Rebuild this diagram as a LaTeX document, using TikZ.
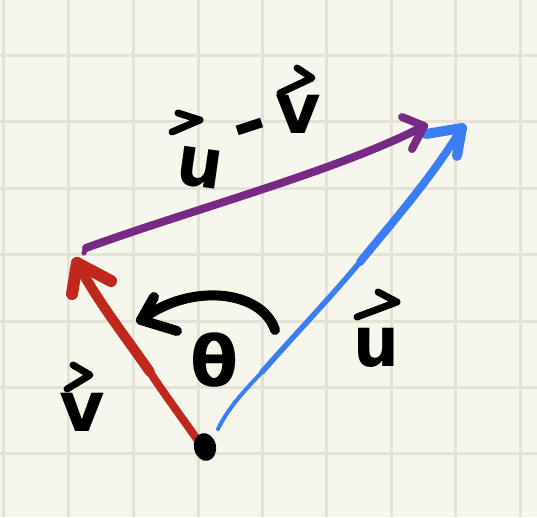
\documentclass[tikz,border=0pt]{standalone}
\usepackage{fontspec}
\setmainfont{DejaVu Sans}
\definecolor{paper}{HTML}{F6F6EC}
\definecolor{gridc}{HTML}{E2E2D6}
\definecolor{vred}{HTML}{C0281E}
\definecolor{ublue}{HTML}{3A7EF2}
\definecolor{dpurple}{HTML}{772A85}
\begin{document}
\begin{tikzpicture}[x=1pt,y=-1pt,
  pen/.style={line cap=round,line join=round},
  chev/.style={pen,line width=7pt,black},
  lbl/.style={inner sep=0pt,font=\fontsize{70}{70}\selectfont\bfseries},
  redv/.style={pen,draw=vred,line width=10pt},
  blueu/.style={pen,draw=ublue,line width=7pt},
  purp/.style={pen,draw=dpurple,line width=8pt},
  arcpen/.style={pen,draw=black,line width=10pt}]
\fill[paper] (0,0) rectangle (537,517);
\useasboundingbox (0,0) rectangle (537,517);
% grid
\foreach \gx in {3,68,133,198,262,326,391,455,520}
  \draw[gridc,line width=3pt] (\gx,0) -- (\gx,517);
\foreach \gy in {55,121,188,254,321,387,453}
  \draw[gridc,line width=3pt] (0,\gy) -- (537,\gy);
% key points
\coordinate (O) at (199,442);
\coordinate (Vm) at (150,372);
\coordinate (Vt) at (77,263);
\coordinate (Us) at (218,429);
\coordinate (Um) at (262,372);
\coordinate (Un) at (360,262);
\coordinate (Ut) at (462,128);
\coordinate (Ps) at (84,253);
\coordinate (Pt) at (424,126);
\coordinate (As) at (275,330);
\coordinate (At) at (141,320);
% v (red)
\draw[redv,line width=8pt] (O) .. controls (175,408) and (160,388) .. (Vm);
\draw[redv,line width=10pt] (Vm) .. controls (128,340) and (100,305) .. (Vt);
\draw[redv,line width=12pt] (Vt) -- (72,294);
\draw[redv,line width=12pt] (Vt) -- (111,281);
% u (blue)
\draw[blueu,line width=4pt] (Us) .. controls (228,408) and (245,390) .. (Um);
\draw[blueu,line width=5.5pt] (Um) .. controls (290,340) and (330,298) .. (Un);
\draw[blueu,line width=8pt] (Un) .. controls (390,225) and (430,180) .. (Ut);
\draw[blueu,line width=10pt] (Ut) -- (426,134);
\draw[blueu,line width=10pt] (Ut) -- (457,156);
% u - v (purple)
\draw[purp,line width=5pt] (Ps) -- (86,248);
\draw[purp] (86,248) .. controls (190,210) and (340,170) .. (Pt);
\draw[purp] (Pt) -- (402,117);
\draw[purp] (Pt) -- (412,149);
% angle arc
\draw[arcpen] (As) .. controls (262,290) and (190,282) .. (At);
\draw[arcpen] (At) -- (154,297);
\draw[arcpen] (At) -- (177,331);
% origin dot
\fill[black,rotate around={12:(205,447)}] (205,447) ellipse[x radius=11pt,y radius=14pt];
% theta
\node[lbl] (theta) at (215,360) {θ};
% vec v
\node[lbl] (vl) at (82,412) {v};
\draw[chev] (73,365) -- (90,375) -- (67,389);
% vec u
\node[lbl,xscale=0.92] (ul) at (376,348) {u};
\draw[chev] (378,292) -- (397,302) -- (357,317);
% u - v
\node[lbl,rotate=-8,xscale=0.92] (udl) at (200,168) {u};
\draw[chev] (178,113) -- (200,120) -- (172,132);
\node[lbl,rotate=18,xscale=1.2] (minus) at (252,134) {-};
\node[lbl] (vdl) at (298,114) {v};
\draw[chev] (297,68) -- (312,78) -- (280,93);
\end{tikzpicture}
\end{document}
